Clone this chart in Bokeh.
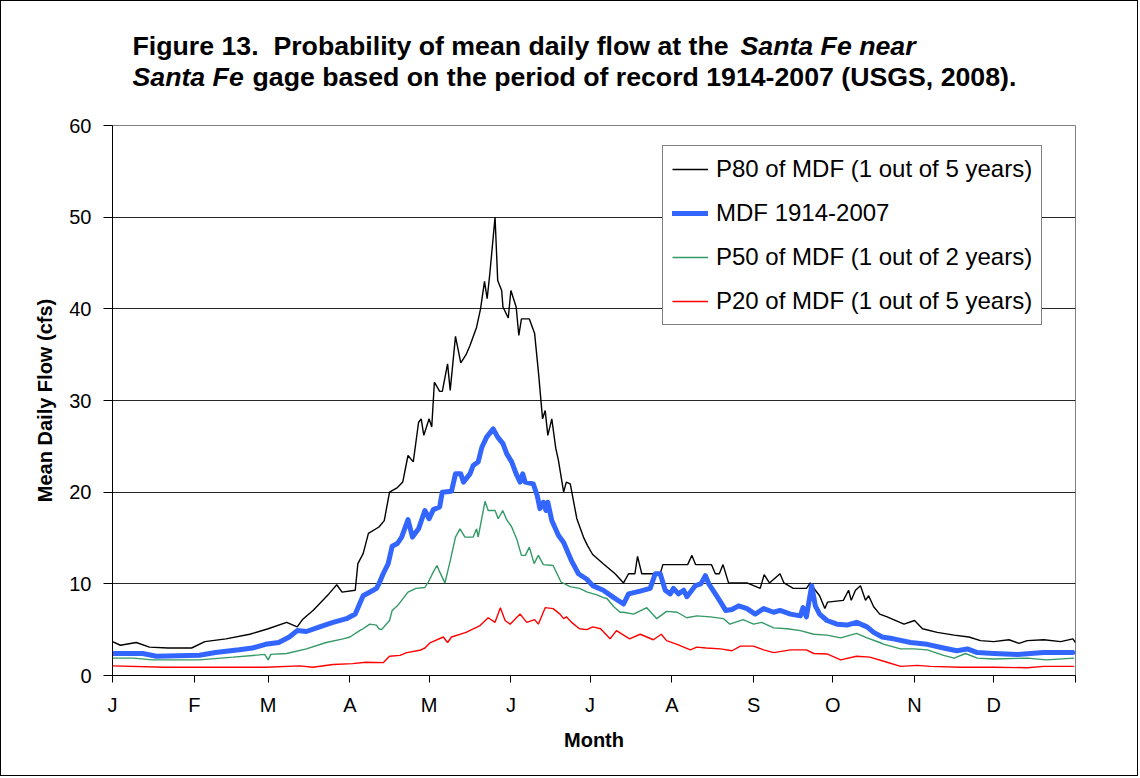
from bokeh.plotting import figure
from bokeh.layouts import column
from bokeh.models import Range1d, FixedTicker, Label, Legend, LegendItem
from bokeh.embed import file_html
from bokeh.resources import INLINE

# ---------------- data ----------------
month_labels = ["J", "F", "M", "A", "M", "J", "J", "A", "S", "O", "N", "D", ""]
month_start_days = [0, 31, 59, 90, 120, 151, 181, 212, 243, 273, 304, 334, 365]
y_ticks = [0, 10, 20, 30, 40, 50, 60]

p80_day = [0, 3, 9, 14, 21, 30, 35, 43, 52, 59, 66, 70, 72, 76, 82, 85, 87, 92, 93, 95, 97, 101, 103, 105,
           108, 110, 112, 114, 116, 117, 118, 120, 121, 122, 124, 125, 127, 128, 130, 132, 134, 135.5, 138,
           139.5, 141, 142, 143, 145, 146, 147.5, 148, 150, 151, 153, 154, 155, 158, 160, 161.5, 163, 164,
           165, 166.5, 168, 169, 171, 172, 173.5, 176, 178.5, 180, 182, 186, 190.5, 193.7, 195.6, 198, 199,
           200.6, 207.6, 208.6, 218, 219.6, 221, 227, 228.5, 230, 231.4, 233.5, 240.5, 245.5, 247, 249, 253,
           254.5, 258, 263, 264.5, 266.4, 268, 270, 271, 277, 279, 280, 281.6, 283.5, 285.4, 286.6, 288.5,
           290.8, 293.6, 300, 304, 307, 312.6, 319, 324.6, 329, 334, 339.8, 343.6, 346.7, 353, 359.4, 364, 365]
p80_val = [3.7, 3.3, 3.6, 3.1, 3.0, 3.0, 3.7, 4.0, 4.5, 5.1, 5.8, 5.3, 6.1, 7.1, 8.9, 9.9, 9.1, 9.3, 12.2,
           13.3, 15.5, 16.2, 16.9, 20.0, 20.5, 21.1, 24.0, 23.3, 27.6, 28.0, 26.2, 28.0, 27.1, 32.0, 31.0,
           31.0, 34.0, 31.1, 37.0, 34.1, 35.0, 36.0, 38.0, 40.0, 43.0, 41.1, 43.8, 50.0, 43.1, 42.0, 40.2,
           39.0, 42.0, 40.2, 37.1, 38.9, 38.9, 37.3, 32.9, 28.0, 28.9, 26.2, 28.0, 24.8, 23.5, 20.0, 21.1,
           20.9, 17.1, 15.1, 14.2, 13.2, 12.2, 11.1, 10.1, 11.1, 11.1, 13.0, 11.1, 11.1, 12.1, 12.1, 13.1,
           12.1, 12.1, 11.1, 11.1, 12.1, 10.1, 10.1, 9.5, 11.0, 10.1, 11.1, 10.1, 9.5, 9.5, 10.1, 9.3, 8.7,
           7.3, 8.0, 8.2, 9.3, 8.2, 9.3, 9.8, 8.2, 8.7, 7.5, 6.7, 6.4, 5.6, 6.0, 5.1, 4.7, 4.4, 4.2, 3.8,
           3.7, 3.9, 3.5, 3.8, 3.9, 3.7, 4.0, 3.6]

mdf_day = [0, 11.5, 16.6, 33, 39, 48, 53, 58, 63, 67, 70, 73.5, 78.5, 83.6, 88.7, 92, 95, 98.8, 100, 101,
           102.6, 104.5, 106, 108, 109.6, 112, 113.7, 116, 118.4, 120, 121.6, 124, 125, 128.5, 130, 132,
           133, 135.5, 136.7, 138.6, 140, 141.8, 144.3, 146, 148, 149.4, 151.3, 153, 154.5, 155.5, 156.4,
           159.5, 161, 162, 163.3, 164.3, 165, 166.5, 169, 171, 174, 176.6, 179.8, 182, 186, 190, 193.7,
           195.6, 200, 203.8, 205.7, 207.6, 209.5, 211.4, 212.6, 214.5, 216.5, 217.7, 220.9, 223, 224.7,
           226, 228.5, 230.5, 232.4, 234.8, 237.3, 240.5, 243.6, 246.8, 250.6, 253, 257, 260.7, 261.7, 263,
           265, 266.4, 268, 270.8, 274.6, 278.4, 282, 286, 288.5, 291.7, 296, 302.5, 308.8, 315, 320, 324,
           327.8, 334, 343, 353, 364]
mdf_val = [2.4, 2.4, 2.1, 2.2, 2.5, 2.8, 3.0, 3.4, 3.6, 4.2, 4.9, 4.8, 5.3, 5.8, 6.2, 6.7, 8.7, 9.3, 9.5,
           10.0, 11.1, 12.2, 14.1, 14.4, 15.1, 17.0, 15.1, 16.0, 18.0, 17.1, 18.1, 18.4, 20.0, 20.1, 22.0,
           22.0, 21.1, 22.0, 22.9, 23.3, 24.9, 26.0, 26.9, 26.0, 25.3, 24.2, 23.3, 22.0, 21.1, 22.0, 21.1,
           20.9, 19.6, 18.2, 18.9, 18.0, 18.9, 16.9, 15.3, 14.5, 12.5, 11.1, 10.5, 9.8, 9.3, 8.5, 7.8, 8.9,
           9.2, 9.5, 11.1, 11.1, 9.3, 8.9, 9.5, 8.9, 9.3, 8.6, 9.8, 10.0, 10.9, 10.0, 8.9, 8.0, 7.1, 7.2,
           7.6, 7.3, 6.7, 7.3, 6.9, 7.1, 6.7, 6.5, 7.4, 6.4, 9.8, 7.6, 6.7, 6.0, 5.6, 5.5, 5.8, 5.3, 4.7,
           4.2, 4.0, 3.6, 3.4, 3.0, 2.7, 2.9, 2.5, 2.4, 2.3, 2.5, 2.5]

p50_day = [0, 8, 15, 33, 45.7, 57.7, 59, 60, 66, 73.5, 81, 87.4, 90, 93.7, 95, 97.5, 100, 101, 102, 105,
           106, 108, 112, 115, 118.4, 119.7, 121.6, 123, 124, 126, 128, 130, 131.7, 133.6, 136.7, 138, 138.6,
           141.2, 142.4, 145, 146.2, 147.9, 149.4, 151.3, 153.2, 155, 156.5, 158, 159.8, 161.4, 163.3, 167,
           170, 173.4, 177, 180, 183.6, 186, 187.4, 190, 192.4, 193.7, 197.5, 202.5, 206.3, 210, 214, 217.7,
           221.5, 226.6, 231.6, 234, 239, 243, 246, 250.6, 255.7, 260.7, 265.8, 270.8, 276, 282, 286, 290.8,
           292.5, 298.7, 303.8, 308.8, 315, 319, 323.3, 327.8, 334, 346.7, 354, 364.5]
p50_val = [1.9, 1.9, 1.7, 1.7, 2.0, 2.3, 1.7, 2.3, 2.4, 2.9, 3.6, 4.0, 4.2, 4.9, 5.1, 5.6, 5.5, 5.1, 5.0,
           6.0, 7.1, 7.6, 9.1, 9.5, 9.6, 10.2, 11.3, 12.0, 11.3, 10.1, 12.5, 15.1, 16.0, 15.1, 15.1, 16.0,
           15.1, 19.0, 18.0, 18.0, 17.1, 18.0, 17.0, 16.2, 14.9, 13.1, 13.1, 14.0, 12.2, 13.1, 12.1, 12.0,
           10.2, 9.7, 9.5, 9.1, 8.8, 8.5, 8.4, 7.5, 6.9, 6.9, 6.7, 7.4, 6.2, 7.0, 6.9, 6.3, 6.5, 6.4, 6.2,
           5.6, 6.1, 5.6, 5.8, 5.2, 5.1, 4.9, 4.5, 4.4, 4.1, 4.6, 4.1, 3.6, 3.4, 2.9, 2.9, 2.8, 2.2, 1.9,
           2.4, 1.9, 1.8, 1.9, 1.7, 1.9]

p20_day = [0, 20, 58, 71, 76, 83.6, 91, 96, 102.6, 105, 109, 111.5, 116.5, 118.4, 120.3, 125.4, 127, 128.5,
           134, 139.3, 142.4, 145, 147, 148.8, 150.7, 154.5, 157, 160, 161.4, 164, 167, 169.6, 171, 172, 174,
           177, 179.8, 182, 185, 188.6, 191, 196, 200, 205, 208, 210, 214, 219, 221.5, 225, 230.5, 234.8, 238,
           243, 246.8, 250.6, 257, 263, 265.8, 270.8, 276, 282, 287, 293.6, 298.7, 305, 310, 321.4, 334,
           346.7, 353, 364.5]
p20_val = [1.05, 0.9, 0.9, 1.05, 0.9, 1.2, 1.3, 1.45, 1.4, 2.1, 2.2, 2.5, 2.75, 3.0, 3.55, 4.2, 3.6, 4.2,
           4.7, 5.45, 6.3, 5.8, 7.4, 6.0, 5.6, 6.7, 5.8, 6.1, 5.6, 7.4, 7.3, 6.7, 6.2, 6.4, 5.8, 5.1, 5.0,
           5.3, 5.1, 4.0, 4.9, 4.0, 4.5, 3.9, 4.5, 3.8, 3.4, 2.8, 3.1, 3.0, 2.9, 2.7, 3.2, 3.2, 2.8, 2.5,
           2.8, 2.8, 2.4, 2.35, 1.7, 2.1, 2.0, 1.45, 1.0, 1.1, 1.0, 0.9, 0.9, 0.85, 1.0, 1.0]

series_names = ["P80 of MDF (1 out of 5 years)", "MDF 1914-2007",
                "P50 of MDF (1 out of 2 years)", "P20 of MDF (1 out of 5 years)"]

FONT = "Liberation Sans"
W = 1136

# ---------------- title strip (its own figure) ----------------
pt = figure(width=W, height=100, output_backend="svg", toolbar_location=None,
            x_axis_type=None, y_axis_type=None, min_border=0,
            x_range=Range1d(0, W), y_range=Range1d(0, 100))
pt.outline_line_color = None
pt.background_fill_color = "white"
pt.border_fill_color = "white"
title_parts = [
    ("Figure 13.\u00a0 Probability of mean daily flow at the", 20, 56, "bold"),
    ("Santa Fe near", 628, 56, "bold italic"),
    ("Santa Fe", 20, 25, "bold italic"),
    ("gage based on the period of record 1914-2007 (USGS, 2008).", 140, 25, "bold"),
]
for txt, tx, ty, style in title_parts:
    pt.add_layout(Label(x=tx, y=ty, x_units="screen", y_units="screen", text=txt,
                        text_font=FONT, text_font_size="26.7px",
                        text_font_style=style, text_color="black",
                        text_align="left", text_baseline="alphabetic"))

# ---------------- chart ----------------
p = figure(width=W, height=674, output_backend="svg", toolbar_location=None,
           x_range=Range1d(0, 365), y_range=Range1d(0, 60),
           min_border_left=111, min_border_right=62, min_border_top=24, min_border_bottom=100)
p.background_fill_color = "white"
p.border_fill_color = "white"
p.outline_line_color = "#808080"
p.outline_line_width = 1

p.xaxis.ticker = FixedTicker(ticks=month_start_days)
p.xaxis.major_label_overrides = {d: lab for d, lab in zip(month_start_days, month_labels)}
p.yaxis.ticker = FixedTicker(ticks=y_ticks)
for ax in (p.xaxis[0], p.yaxis[0]):
    ax.axis_line_color = "black"
    ax.axis_line_width = 1
    ax.major_tick_line_color = "black"
    ax.major_tick_in = 0
    ax.minor_tick_line_color = None
    ax.major_label_text_font = FONT
    ax.major_label_text_font_size = "20px"
    ax.major_label_text_color = "black"
    ax.axis_label_text_font = FONT
    ax.axis_label_text_font_style = "bold"
    ax.axis_label_text_font_size = "20px"
    ax.axis_label_text_color = "black"
p.xaxis.major_tick_out = 7
p.yaxis.major_tick_out = 9
p.xaxis.major_label_standoff = 11
p.yaxis.major_label_standoff = 12
p.xaxis.axis_label = "Month"
p.yaxis.axis_label = "Mean Daily Flow (cfs)"
p.xaxis.axis_label_standoff = 10
p.yaxis.axis_label_standoff = 10

p.xgrid.grid_line_color = None
p.ygrid.grid_line_color = "black"
p.ygrid.grid_line_width = 1
p.ygrid.grid_line_alpha = 0.85

r80 = p.line(p80_day, p80_val, line_color="black", line_width=1.4)
rmdf = p.line(mdf_day, mdf_val, line_color="#3366FF", line_width=5, line_join="round", line_cap="round")
r50 = p.line(p50_day, p50_val, line_color="#339966", line_width=1.4)
r20 = p.line(p20_day, p20_val, line_color="#FF0000", line_width=1.4)

legend = Legend(items=[LegendItem(label=series_names[0], renderers=[r80]),
                       LegendItem(label=series_names[1], renderers=[rmdf]),
                       LegendItem(label=series_names[2], renderers=[r50]),
                       LegendItem(label=series_names[3], renderers=[r20])],
                location=(550, 350))
legend.border_line_color = "black"
legend.border_line_width = 1
legend.background_fill_color = "white"
legend.background_fill_alpha = 1
legend.label_text_font = FONT
legend.label_text_font_size = "24px"
legend.label_text_color = "black"
legend.glyph_width = 36
legend.glyph_height = 22
legend.label_height = 22
legend.label_standoff = 8
legend.spacing = 16
legend.padding = 9
legend.margin = 0
p.add_layout(legend, "center")

layout = column(pt, p, spacing=0)
layout.styles = {"border": "1px solid black"}

open("out.html", "w").write(file_html(layout, INLINE))
